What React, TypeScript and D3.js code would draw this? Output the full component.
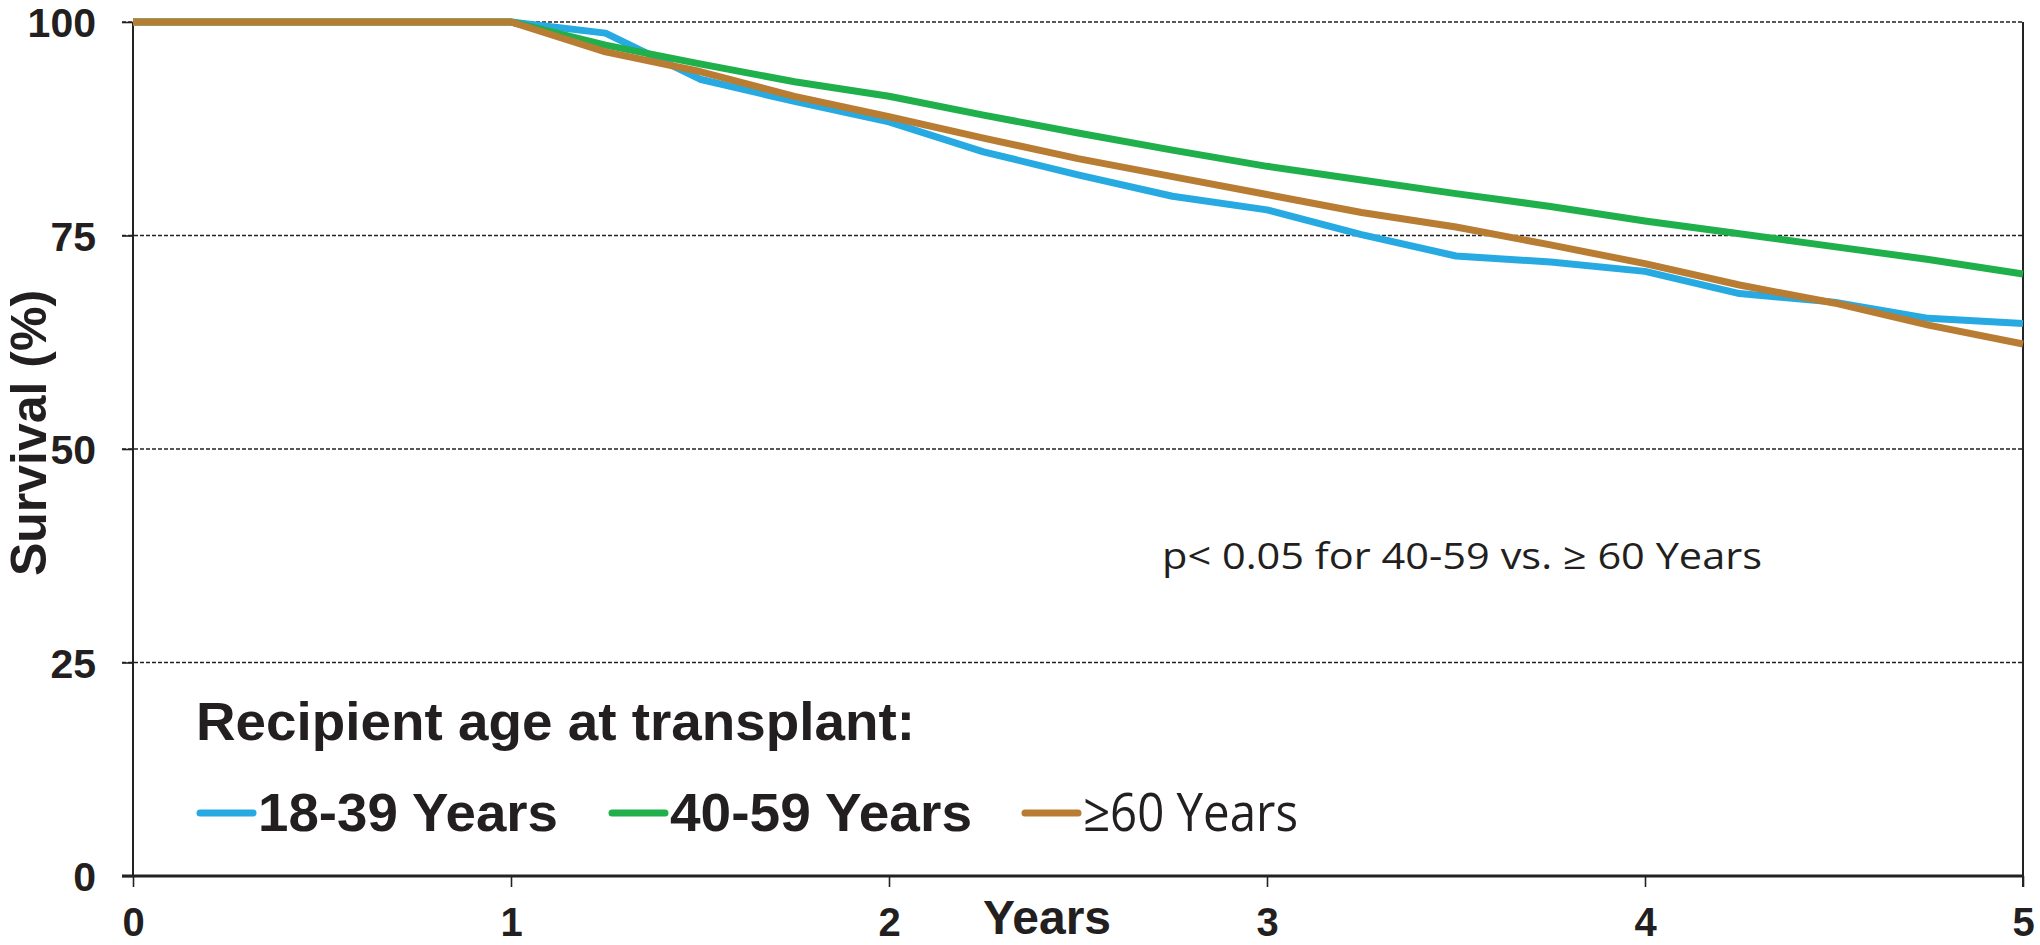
import React, { useRef, useEffect } from "react";
import * as d3 from "d3";

// follow-up time points, years
const years = [0, 0.25, 0.5, 0.75, 1, 1.25, 1.5, 1.75, 2, 2.25, 2.5, 2.75, 3, 3.25, 3.5, 3.75, 4, 4.25, 4.5, 4.75, 5];

// survival (%) per age group
const age18to39 = [100, 100, 100, 100, 100, 98.7, 93.3, 90.7, 88.3, 84.8, 82.1, 79.6, 78.0, 75.1, 72.6, 71.9, 70.8, 68.2, 67.2, 65.3, 64.7];
const age40to59 = [100, 100, 100, 100, 100, 97.3, 95.1, 93.0, 91.3, 89.1, 87.0, 85.0, 83.1, 81.5, 79.9, 78.4, 76.7, 75.2, 73.7, 72.2, 70.5];
const age60plus = [100, 100, 100, 100, 100, 96.5, 94.2, 91.3, 88.9, 86.4, 84.0, 81.9, 79.8, 77.7, 76.0, 73.9, 71.7, 69.2, 67.1, 64.5, 62.3];

const xTicks = [0, 1, 2, 3, 4, 5];
const yTicks = [0, 25, 50, 75, 100];

const seriesNames = ["18-39 Years", "40-59 Years", "\u226560 Years"];
const seriesColors = ["#27aae1", "#1fb04b", "#b87d33"];

const W = 2040;
const H = 945;

const App = () => {
  const svgRef = useRef<SVGSVGElement>(null);

  useEffect(() => {
    const svg = d3.select(svgRef.current);
    svg.selectAll("*").remove();

    const x = d3.scaleLinear().domain([0, 5]).range([133, 2023]);
    const y = d3.scaleLinear().domain([0, 100]).range([876, 22]);

    const boldFont = "'Liberation Sans', Arial, sans-serif";
    const lightFont = "'Open Sans', 'Liberation Sans', sans-serif";

    // dashed gridlines (75, 50, 25 and top at 100)
    svg
      .append("g")
      .selectAll("line")
      .data(yTicks.filter((d) => d > 0))
      .join("line")
      .attr("x1", 122)
      .attr("x2", x(5))
      .attr("y1", (d) => y(d))
      .attr("y2", (d) => y(d))
      .attr("stroke", "#222")
      .attr("stroke-width", 1.4)
      .attr("stroke-dasharray", "4,2");

    // y axis
    const yAxis = svg.append("g").attr("transform", `translate(${x(0)},0)`);
    yAxis
      .call(d3.axisLeft(y).tickValues(yTicks).tickSize(11).tickFormat(d3.format("d")))
      .call((g) => g.select(".domain").remove());
    yAxis.selectAll(".tick line").attr("stroke", "#222").attr("stroke-width", 1.6);
    yAxis
      .selectAll(".tick text")
      .attr("x", -37)
      .attr("dy", "0.36em")
      .attr("fill", "#231f20")
      .style("font-family", boldFont)
      .style("font-weight", "bold")
      .style("font-size", "41px");
    yAxis
      .append("line")
      .attr("x1", 0)
      .attr("x2", 0)
      .attr("y1", y(100))
      .attr("y2", y(0))
      .attr("stroke", "#222")
      .attr("stroke-width", 2);

    // right border
    svg
      .append("line")
      .attr("x1", x(5))
      .attr("x2", x(5))
      .attr("y1", y(100))
      .attr("y2", y(0) + 11)
      .attr("stroke", "#222")
      .attr("stroke-width", 2);

    // x axis
    const xAxis = svg.append("g").attr("transform", `translate(0,${y(0)})`);
    xAxis
      .call(d3.axisBottom(x).tickValues(xTicks).tickSize(11).tickFormat(d3.format("d")))
      .call((g) => g.select(".domain").remove());
    xAxis.selectAll(".tick line").attr("stroke", "#222").attr("stroke-width", 1.6);
    xAxis
      .selectAll(".tick text")
      .attr("y", 60)
      .attr("dy", 0)
      .attr("fill", "#231f20")
      .style("font-family", boldFont)
      .style("font-weight", "bold")
      .style("font-size", "40px");
    xAxis
      .append("line")
      .attr("x1", 122)
      .attr("x2", x(5))
      .attr("y1", 0)
      .attr("y2", 0)
      .attr("stroke", "#222")
      .attr("stroke-width", 3);

    // survival curves
    const line = d3
      .line<number>()
      .x((_, i) => x(years[i]))
      .y((d) => y(d));

    const allSeries = [age18to39, age40to59, age60plus];
    svg
      .append("g")
      .selectAll("path")
      .data(allSeries)
      .join("path")
      .attr("d", (d) => line(d))
      .attr("fill", "none")
      .attr("stroke", (_, i) => seriesColors[i])
      .attr("stroke-width", 7)
      .attr("stroke-linejoin", "round");

    // axis titles
    svg
      .append("text")
      .attr("x", 1047)
      .attr("y", 934)
      .attr("text-anchor", "middle")
      .attr("fill", "#231f20")
      .style("font-family", boldFont)
      .style("font-weight", "bold")
      .style("font-size", "48px")
      .text("Years");

    svg
      .append("text")
      .attr("transform", "translate(46,433) rotate(-90)")
      .attr("text-anchor", "middle")
      .attr("fill", "#231f20")
      .style("font-family", boldFont)
      .style("font-weight", "bold")
      .style("font-size", "50px")
      .text("Survival (%)");

    // p-value note
    svg
      .append("text")
      .attr("x", 1162)
      .attr("y", 569)
      .attr("textLength", 600)
      .attr("lengthAdjust", "spacingAndGlyphs")
      .attr("fill", "#231f20")
      .style("font-family", lightFont)
      .style("font-size", "36px")
      .text("p< 0.05 for 40-59 vs. \u2265 60 Years");

    // legend
    svg
      .append("text")
      .attr("x", 196)
      .attr("y", 740)
      .attr("textLength", 719)
      .attr("lengthAdjust", "spacingAndGlyphs")
      .attr("fill", "#231f20")
      .style("font-family", boldFont)
      .style("font-weight", "bold")
      .style("font-size", "53px")
      .text("Recipient age at transplant:");

    const legendX = [200, 612, 1025];
    const legendTextW = [300, 302, 215];
    const legend = svg
      .append("g")
      .selectAll("g")
      .data(seriesNames)
      .join("g")
      .attr("transform", (_, i) => `translate(${legendX[i]},0)`);
    legend
      .append("line")
      .attr("x1", 0)
      .attr("x2", 53)
      .attr("y1", 813)
      .attr("y2", 813)
      .attr("stroke", (_, i) => seriesColors[i])
      .attr("stroke-width", 7)
      .attr("stroke-linecap", "round");
    legend
      .append("text")
      .attr("x", 58)
      .attr("y", 831)
      .attr("textLength", (_, i) => legendTextW[i])
      .attr("lengthAdjust", "spacingAndGlyphs")
      .attr("fill", "#231f20")
      .style("font-family", (_, i) => (i === 2 ? lightFont : boldFont))
      .style("font-weight", (_, i) => (i === 2 ? "normal" : "bold"))
      .style("font-size", "53px")
      .text((d) => d);
  }, []);

  return (
    <div style={{ position: "absolute", left: 0, top: 0, width: W, height: H, background: "#fff" }}>
      <svg ref={svgRef} width={W} height={H} />
    </div>
  );
};

export default App;
